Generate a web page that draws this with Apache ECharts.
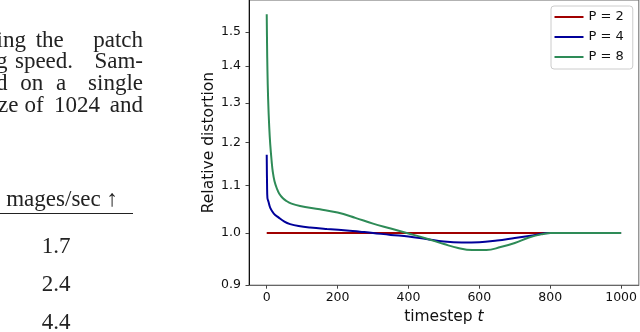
<!DOCTYPE html>
<html>
<head>
<meta charset="utf-8">
<title>Relative distortion</title>
<script src="https://cdn.jsdelivr.net/npm/echarts@6/dist/echarts.min.js"></script>
<style>
  html, body { margin: 0; padding: 0; background: #fff; }
  #main { width: 640px; height: 332px; }
</style>
</head>
<body>
<div id="main"></div>
<script>
// tick labels
var yTicks = [0.9, 1.0, 1.1, 1.2, 1.3, 1.4, 1.5];
var xTicks = [0, 200, 400, 600, 800, 1000];

// series: timestep / relative distortion
var p2T = [0, 1000];
var p2V = [1.0, 1.0];

var p4T = [0, 1, 2, 5, 10, 20, 33, 50, 66, 90, 122, 170, 234, 263, 300, 350, 400, 450, 500, 550, 600, 650, 700, 750, 800, 1000];
var p4V = [1.171, 1.10, 1.073, 1.065, 1.052, 1.040, 1.032, 1.023, 1.018, 1.014, 1.011, 1.008, 1.0046, 1.0026, 1.000, 0.996, 0.993, 0.988, 0.983, 0.981, 0.9815, 0.985, 0.990, 0.995, 1.0, 1.0];

var p8T = [0, 1, 2, 4, 7, 10, 14, 17, 22, 29, 35, 45, 55, 70, 94, 150, 200, 250, 300, 350, 400, 450, 500, 540, 580, 620, 660, 700, 740, 780, 800, 850, 1000];
var p8V = [1.555, 1.46, 1.39, 1.31, 1.24, 1.195, 1.155, 1.132, 1.11, 1.093, 1.083, 1.073, 1.067, 1.061, 1.056, 1.049, 1.042, 1.031, 1.019, 1.009, 0.999, 0.989, 0.978, 0.970, 0.966, 0.966, 0.972, 0.980, 0.991, 0.998, 1.0, 1.0, 1.0];

var names = ['P = 2', 'P = 4', 'P = 8'];
var colors = ['#a00000', '#00009a', '#2e8b57'];

// text of the paper page next to the figure (justified, so word by word)
var bodyWords = [
    [['ing', 26, 'right'], ['the', 49.7, 'center'], ['patch', 143, 'right']],
    [['g', 7.5, 'right'], ['speed.', 44, 'center'], ['Sam-', 143, 'right']],
    [['d', 7.5, 'right'], ['on', 31.7, 'center'], ['a', 61, 'center'], ['single', 143, 'right']],
    [['ze', 18.5, 'right'], ['of', 34, 'center'], ['1024', 77, 'center'], ['and', 143, 'right']]
];
var tableHead = 'mages/sec \u2191';
var tableVals = ['1.7', '2.4', '4.4'];

// y axis is logarithmic: plot log10 of the values
function pairs(t, v) {
    return t.map(function (x, i) { return [x, Math.log10(v[i])]; });
}
var lg = function (v) { return Math.log10(v); };

var myChart = echarts.init(document.getElementById('main'));

var graphics = [];
var serif = '"Liberation Serif", serif';
var serifFont = '23px ' + serif;
var baseY = [48.3, 70, 91.7, 113.5];
bodyWords.forEach(function (line, i) {
    line.forEach(function (w) {
        graphics.push({
            type: 'text', x: w[1], y: baseY[i] - 7.6,
            style: { text: w[0], align: w[2], verticalAlign: 'middle', font: serifFont, fill: '#222' }
        });
    });
});
graphics.push({
    type: 'text', x: 118, y: 199.5,
    style: { text: tableHead, align: 'right', verticalAlign: 'middle', font: serifFont, fill: '#222' }
});
graphics.push({
    type: 'line', shape: { x1: 0, y1: 213.5, x2: 133, y2: 213.5 },
    style: { stroke: '#222', lineWidth: 1 }
});
var valY = [246.7, 285, 323];
tableVals.forEach(function (s, i) {
    graphics.push({
        type: 'text', x: 56, y: valY[i],
        style: { text: s, align: 'center', verticalAlign: 'middle', font: serifFont, fill: '#222' }
    });
});

var sans = 'DejaVu Sans';

var option = {
    animation: false,
    backgroundColor: '#fff',
    graphic: graphics,
    grid: {
        left: 249, right: 1, top: -3.3, bottom: 46.8,
        show: true, borderColor: '#666', borderWidth: 1, backgroundColor: 'transparent'
    },
    legend: {
        data: names,
        orient: 'vertical',
        left: 551, top: 6,
        padding: [3.5, 9, 4.5, 3.5],
        itemGap: 5,
        itemWidth: 29,
        itemHeight: 2,
        itemTextGap: 9,
        icon: 'rect',
        borderColor: '#cccccc',
        borderWidth: 1,
        borderRadius: 3,
        backgroundColor: '#fff',
        textStyle: { fontFamily: sans, fontSize: 13, color: '#111', lineHeight: 15 }
    },
    xAxis: {
        type: 'value',
        min: -50, max: 1050,
        name: 'timestep {i|t}',
        nameLocation: 'middle',
        nameMoveOverlap: false,
        nameGap: 24,
        nameTextStyle: {
            fontFamily: sans, fontSize: 15.5, color: '#111',
            rich: { i: { fontFamily: sans, fontStyle: 'italic', fontSize: 15.5, color: '#111' } }
        },
        axisLine: { onZero: false, lineStyle: { color: '#666', width: 1 } },
        axisTick: { show: true, length: 3.5, customValues: xTicks, lineStyle: { color: '#444' } },
        axisLabel: {
            customValues: xTicks, margin: 6, fontFamily: sans, fontSize: 12.5, color: '#111',
            formatter: function (v) { return String(v); }
        },
        splitLine: { show: false }
    },
    yAxis: {
        type: 'value',
        min: lg(0.9), max: lg(1.6),
        name: 'Relative distortion',
        nameLocation: 'middle',
        nameMoveOverlap: false,
        nameGap: 32,
        nameTextStyle: { fontFamily: sans, fontSize: 15.5, color: '#111' },
        axisLine: { onZero: false, lineStyle: { color: '#111', width: 1 } },
        axisTick: { show: true, length: 3.5, customValues: yTicks.map(lg), lineStyle: { color: '#444' } },
        axisLabel: {
            customValues: yTicks.map(lg),
            margin: 8, fontFamily: sans, fontSize: 12.5, color: '#111',
            formatter: function (v) { return Math.pow(10, v).toFixed(1); }
        },
        splitLine: { show: false }
    },
    series: [
        { name: names[0], type: 'line', data: pairs(p2T, p2V) },
        { name: names[1], type: 'line', data: pairs(p4T, p4V) },
        { name: names[2], type: 'line', data: pairs(p8T, p8V) }
    ].map(function (s, i) {
        s.showSymbol = false;
        s.smooth = 0.4;
        s.color = colors[i];
        s.lineStyle = { width: 2, color: colors[i] };
        return s;
    })
};

myChart.setOption(option);
</script>
</body>
</html>
